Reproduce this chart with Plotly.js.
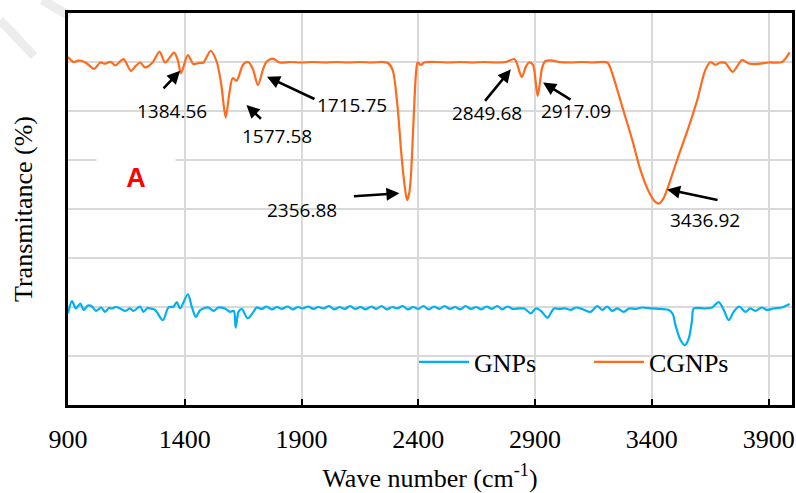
<!DOCTYPE html>
<html><head><meta charset="utf-8">
<script src="https://cdn.plot.ly/plotly-3.0.1.min.js"></script>
<style>html,body{margin:0;padding:0;background:#fff}#chart{width:796px;height:493px}</style>
</head><body><div id="chart"></div>
<script>
// ---- data ----
const gnpsX = [900,917,934,953,967,985,1003,1020,1042,1059,1075,1088,1105,1124,1145,1166,1180,1209,1223,1240,1252,1273,1306,1330,1352,1366,1380,1413,1430,1447,1465,1480,1501,1523,1544,1572,1594,1610,1618,1630,1644,1669,1694,1708,
  1730,1750,1772,1795,1815,1840,1862,1885,1905,1928,1950,1972,1995,2018,2040,2062,2085,2108,2130,2152,2175,2198,2220,2242,2265,2288,2310,2333,2355,2378,2400,2422,2445,2468,2490,2512,2535,2558,2580,2602,2625,2648,2670,2692,2715,2738,2760,2782,2805,
  2832,2853,2882,2903,2925,2953,2981,3003,3031,3053,3074,3102,3138,3166,3188,3209,3230,3252,3280,3302,3330,3359,3401,3437,3473,3490,3501,3522,3541,3558,3572,3579,3629,3658,3686,3708,3729,3750,3774,3800,3821,3843,3871,3893,3921,3957,3990];
const gnpsY = [1.87,2.12,1.97,2.07,1.94,2.03,2.01,1.92,1.99,1.90,1.98,1.97,2.00,1.97,1.92,1.97,1.92,2.01,1.90,1.98,1.97,1.94,1.73,1.99,2.01,2.10,1.97,2.26,2.01,1.80,1.93,1.97,1.99,1.92,1.99,1.97,1.90,1.92,1.58,1.90,1.96,1.77,1.90,1.99,
  1.96,2.01,1.95,2.00,1.96,2.01,1.95,2.00,1.97,2.01,1.96,2.00,1.97,2.02,1.95,2.00,1.96,2.02,1.96,2.00,1.95,2.01,1.96,2.02,1.95,2.00,1.97,2.02,1.95,2.00,1.96,2.02,1.95,2.01,1.96,2.02,1.96,2.00,1.95,2.02,1.96,2.00,1.95,2.01,1.96,2.02,1.95,2.01,1.96,
  1.97,1.97,1.87,1.97,1.92,1.78,1.97,1.96,1.97,1.94,1.99,1.96,1.90,2.02,1.94,2.01,1.92,1.97,1.90,1.97,1.96,1.99,1.97,1.96,1.94,1.85,1.63,1.33,1.22,1.36,1.73,1.97,1.97,1.99,2.10,1.94,1.73,1.90,2.01,1.90,1.97,1.92,1.99,1.94,1.97,1.99,2.06];

const cgnpsX = [900,924,945,960,981,1012,1038,1052,1064,1076,1088,1102,1138,1169,1190,1209,1230,1262,1292,1316,1354,1370,1384,1413,1437,1460,1480,1511,1537,1556,1575,1592,1605,1622,1650,1672,1692,1713,1735,1749,1777,1806,
  1850,1900,1950,2000,2050,2100,2150,2200,2250,2270,2290,2311,2326,2340,2352,2362,2369,2379,2390,2397,2411,2426,2480,2530,2580,2630,2680,2730,2774,2810,2820,2843,2860,2874,2891,2911,2931,2945,2974,3003,3050,3100,3150,3209,
  3230,3273,3316,3351,3387,3410,3430,3448,3465,3508,3558,3594,3629,3651,3672,3693,3715,3746,3786,3815,3857,3900,3957,3990];
const cgnpsY = [7.10,7.00,7.03,7.02,6.97,6.86,6.99,6.97,6.97,7.00,6.99,6.93,7.06,6.82,6.92,6.99,6.89,6.99,7.21,6.99,7.19,7.04,6.77,7.14,6.96,6.98,6.99,7.23,7.00,6.55,5.87,6.40,6.67,6.62,6.95,7.00,6.85,6.53,6.85,7.00,7.07,6.99,
  7.00,6.99,7.00,6.99,7.00,6.99,7.00,6.99,7.00,6.98,6.84,6.09,5.20,4.53,4.18,4.35,4.73,5.75,6.77,6.99,6.94,6.99,7.00,6.99,7.00,6.99,7.00,6.99,7.00,7.06,7.00,6.69,6.90,6.99,6.94,6.31,6.90,7.02,7.03,7.00,6.99,7.00,6.99,6.99,
  6.77,6.09,5.41,4.80,4.35,4.17,4.11,4.20,4.39,5.00,5.68,6.22,6.84,7.00,6.94,6.99,6.98,6.80,7.04,6.97,6.96,6.99,7.00,7.20];

const xTickVals = [900,1400,1900,2400,2900,3400,3900];
const seriesNames = ['GNPs','CGNPs'];
const peakLabels = ['1384.56','1577.58','1715.75','2356.88','2849.68','2917.09','3436.92'];
const panelLabel = 'A';

// ---- layout helpers ----
const W = 796, H = 493, ML = 68, MR = 4, MT = 13, MB = 88;
const PW = W - ML - MR, PH = H - MT - MB;
const px2paperX = p => (p - ML) / PW;
const px2paperY = p => (H - MB - p) / PH;

// arrow heads (data coords) + tail offsets (pixels), and label centres (data coords)
const arrowSpec = [
  {x:1380,y:6.82,ax:-18,ay:19},
  {x:1664,y:6.12,ax:16,ay:15},
  {x:1752,y:6.70,ax:49,ay:23},
  {x:2319,y:4.32,ax:-47,ay:3},
  {x:2796,y:6.85,ax:-27,ay:33},
  {x:2934,y:6.58,ax:29,ay:18},
  {x:3465,y:4.40,ax:52,ay:11}
];
const labelPos = [
  {x:1344,y:5.99},{x:1797,y:5.48},{x:2118,y:6.12},{x:1904,y:3.98},
  {x:2696,y:5.95},{x:3074,y:5.99},{x:3629,y:3.78}
];

const annFont = {family:'Open Sans, Noto Sans, sans-serif', size:19, color:'#000'};
const annotations = [];
arrowSpec.forEach(a => annotations.push({
  x:a.x, y:a.y, xref:'x', yref:'y', ax:a.ax, ay:a.ay, text:'', showarrow:true,
  arrowhead:2, arrowsize:1, arrowwidth:2.6, arrowcolor:'#000', standoff:0
}));
peakLabels.forEach((t,i) => annotations.push({
  x:labelPos[i].x, y:labelPos[i].y, xref:'x', yref:'y', text:t, showarrow:false, font:annFont,
  xanchor:'center', yanchor:'middle'
}));
annotations.push({
  x:px2paperX(136), y:px2paperY(178), xref:'paper', yref:'paper', xanchor:'center', yanchor:'middle',
  text:'<b>'+panelLabel+'</b>',
  showarrow:false, bgcolor:'#ffffff', width:78, height:46, borderpad:0,
  font:{family:'Liberation Sans, Arial, sans-serif', size:27, color:'#ff0000'}
});

const serif = 'Liberation Serif, Times New Roman, serif';
const FS = 26;

const traces = [
  {x:gnpsX, y:gnpsY, name:seriesNames[0], type:'scatter', mode:'lines',
   line:{color:'#00b0f0', width:2.2, shape:'spline', smoothing:0.8}},
  {x:cgnpsX, y:cgnpsY, name:seriesNames[1], type:'scatter', mode:'lines',
   line:{color:'#ff6a1c', width:2.2, shape:'spline', smoothing:0.8}}
];

const layout = {
  width:W, height:H,
  margin:{l:ML, r:MR, t:MT, b:MB, pad:0},
  paper_bgcolor:'#fff', plot_bgcolor:'#fff',
  showlegend:true,
  legend:{orientation:'h', x:px2paperX(414), xanchor:'left', y:px2paperY(362), yanchor:'middle',
    bgcolor:'rgba(0,0,0,0)', font:{family:serif, size:FS, color:'#000'},
    itemwidth:50, entrywidth:110, entrywidthmode:'pixels'},
  xaxis:{range:[900,4000], tickmode:'array', tickvals:xTickVals,
    showgrid:true, gridcolor:'#d9d9d9', gridwidth:2, zeroline:false,
    showline:true, linecolor:'#000', linewidth:3, mirror:true,
    ticks:'inside', ticklen:6, tickwidth:2, tickcolor:'#000',
    ticklabelstandoff:9,
    tickfont:{family:serif, size:FS, color:'#000'},
    title:{text:'Wave number (cm<sup>-1</sup>)', font:{family:serif, size:FS, color:'#000'}, standoff:17}},
  yaxis:{range:[0,8], dtick:1, tick0:0, showticklabels:false,
    showgrid:true, gridcolor:'#d9d9d9', gridwidth:2, zeroline:false,
    showline:true, linecolor:'#000', linewidth:3, mirror:true, ticks:'',
    title:{text:'Transmitance (%)', font:{family:serif, size:FS, color:'#000'}, standoff:25}},
  annotations:annotations,
  shapes:[
    {type:'line', xref:'paper', yref:'paper', x0:px2paperX(0), y0:px2paperY(20), x1:px2paperX(34), y1:px2paperY(56),
     line:{color:'#ececec', width:9}, layer:'below'},
    {type:'line', xref:'paper', yref:'paper', x0:px2paperX(42), y0:px2paperY(0), x1:px2paperX(70), y1:px2paperY(16),
     line:{color:'#ececec', width:9}, layer:'below'}
  ]
};

Plotly.newPlot('chart', traces, layout, {displayModeBar:false, staticPlot:true});
</script>
</body></html>
